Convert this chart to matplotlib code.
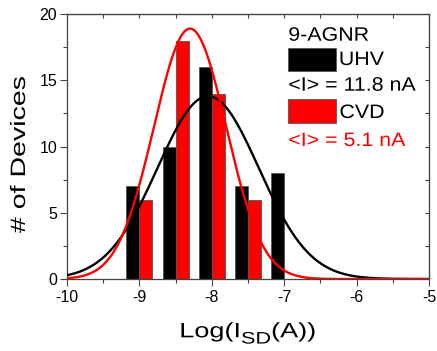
import numpy as np
import matplotlib
matplotlib.use('Agg')
from matplotlib import pyplot as plt
from matplotlib.patches import Rectangle, PathPatch
from matplotlib.textpath import TextPath, text_to_path
from matplotlib.font_manager import FontProperties
from matplotlib.path import Path
from matplotlib.transforms import Affine2D

plt.rcParams['font.family'] = ['Liberation Sans', 'DejaVu Sans']
plt.rcParams['axes.unicode_minus'] = False

# histogram bins (log10 of current), counts per sample
bins = [-9.0, -8.5, -8.0, -7.5, -7.0]
uhv_counts = [7, 10, 16, 7, 8]
cvd_counts = [6, 18, 14, 6, 0]

# gaussian fit parameters: (amplitude, centre, sigma)
uhv_fit = (13.8, -8.05, 0.70)
cvd_fit = (18.9, -8.30, 0.50)

uhv_label = 'UHV'
cvd_label = 'CVD'
uhv_mean = '<I> = 11.8 nA'
cvd_mean = '<I> = 5.1 nA'
title = '9-AGNR'

red = '#ff0000'
bar_w = 0.18
DPI = 100
H = 351
FONT = 'Liberation Sans'


def gauss(x, amp, mu, sig):
    return amp * np.exp(-(x - mu) ** 2 / (2 * sig ** 2))


def wide_text(x, y, pieces, size, sx=1.0, rot=0, color='black', ha='left'):
    """Draw text stretched along its length. x, y: pixels from top-left of
    the figure at the baseline. pieces: list of (string, rel size, rel dy)."""
    paths = []
    xoff = 0.0
    for s, rel, dy in pieces:
        fp = FontProperties(family=FONT, size=size * rel)
        paths.append(TextPath((xoff, dy * size), s, size=size * rel, prop=fp))
        w, _, _ = text_to_path.get_text_width_height_descent(s, fp, ismath=False)
        xoff += w
    p = Path.make_compound_path(*paths)
    bb = p.get_extents()
    x0 = -(bb.x0 + bb.x1) / 2 if ha == 'center' else -bb.x0
    k = DPI / 72
    tr = Affine2D().translate(x0, 0).scale(sx * k, k).rotate_deg(rot).translate(x, H - y)
    fig.add_artist(PathPatch(p, transform=tr, facecolor=color, edgecolor='none', lw=0))


fig = plt.figure(figsize=(4.37, 3.51), dpi=DPI)
ax = fig.add_axes([0.153, 0.205, 0.829, 0.755])

b = np.asarray(bins)
ax.bar(b - bar_w / 2, uhv_counts, width=bar_w, color='black', edgecolor='#555555', lw=0.6, zorder=2)
ax.bar(b + bar_w / 2, cvd_counts, width=bar_w, color=red, edgecolor='#555555', lw=0.6, zorder=2)

xs = np.linspace(-10, -5, 400)
ax.plot(xs, gauss(xs, *uhv_fit), color='black', lw=1.7, zorder=3)
ax.plot(xs, gauss(xs, *cvd_fit), color=red, lw=1.7, zorder=4)

ax.set_xlim(-10, -5)
ax.set_ylim(0, 20)
ax.set_xticks(np.arange(-10, -4, 1))
ax.set_xticks(np.arange(-10, -5, 0.5), minor=True)
ax.set_yticks(np.arange(0, 21, 5))
ax.set_yticks(np.arange(0, 20, 2.5), minor=True)
ax.tick_params(which='both', direction='out', labelsize=11.5, color='#444444', width=0.8)
ax.tick_params(which='major', length=5)
ax.tick_params(which='minor', length=3)
ax.tick_params(axis='x', pad=3)
ax.tick_params(axis='y', pad=2)
for s in ax.spines.values():
    s.set_color('#444444')
    s.set_linewidth(0.9)

# mirrored inward ticks on top and right
axt = ax.secondary_xaxis('top')
axt.set_xticks(np.arange(-10, -4, 1))
axt.set_xticks(np.arange(-10, -5, 0.5), minor=True)
axt.tick_params(which='both', direction='in', length=3, labeltop=False, color='#444444', width=0.8)
axr = ax.secondary_yaxis('right')
axr.set_yticks(np.arange(0, 21, 5))
axr.set_yticks(np.arange(0, 20, 2.5), minor=True)
axr.tick_params(which='both', direction='in', length=3, labelright=False, color='#444444', width=0.8)

# axis labels (wide lettering as in the original export)
wide_text(248, 337.3, [('Log(I', 1.0, 0), ('SD', 0.8, -0.3), ('(A))', 1.0, 0)],
          15, sx=1.3, ha='center')
wide_text(25, 155, [('# of Devices', 1.0, 0)], 15, sx=1.37, rot=90, ha='center')

# hand-built legend
tr = ax.transAxes
ax.add_patch(Rectangle((0.611, 0.786), 0.132, 0.0845, transform=tr,
                       facecolor='black', edgecolor='#555555', lw=0.6))
ax.add_patch(Rectangle((0.611, 0.588), 0.132, 0.0906, transform=tr,
                       facecolor=red, edgecolor='#555555', lw=0.6))
wide_text(289.3, 40.7, [(title, 1.0, 0)], 14, sx=1.1)
wide_text(340.5, 65, [(uhv_label, 1.0, 0)], 14, sx=1.1)
wide_text(289.3, 90.7, [(uhv_mean, 1.0, 0)], 14, sx=1.1)
wide_text(340.5, 118, [(cvd_label, 1.0, 0)], 14, sx=1.1)
wide_text(289.3, 146, [(cvd_mean, 1.0, 0)], 14, sx=1.1, color=red)

fig.savefig('out.png', dpi=DPI)
